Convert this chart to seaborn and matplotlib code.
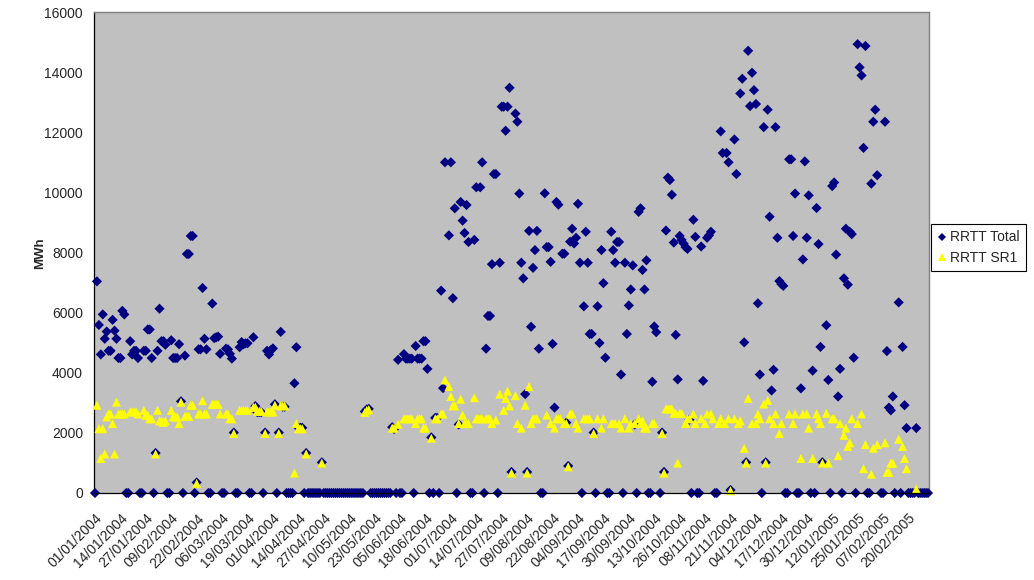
import numpy as np
import pandas as pd
import matplotlib
matplotlib.use("Agg")
import matplotlib.pyplot as plt
import matplotlib.transforms as mtransforms
import seaborn as sns
from matplotlib.lines import Line2D

N = None
# daily values, 01/01/2004 onwards (MWh)
total = [
    0, 7040, 5590, 4610, 5940, 5130, 5370, 4730, 4730, 5760,
    5400, 5130, 4490, 4490, 6060, 5940, 0, 0, 5050, 4610,
    4730, 4730, 4490, 0, 0, 4730, 4730, 5440, 5440, 4490,
    0, 1330, 4730, 6130, 5050, 5050, 4930, 0, 0, 5080,
    4490, 4490, 4490, 4950, 3050, 0, 4570, 7950, 7950, 8550,
    8550, 0, 350, 4780, 4780, 6820, 5130, 4780, 0, 0,
    6300, 5150, 5180, 5200, 4630, 0, 0, 4800, 4780, 4630,
    4470, 2010, 0, 0, 4850, 5020, 4950, 4980, 4980, 0,
    0, 5180, 2890, 2690, 2690, 2690, 0, 2010, 4730, 4610,
    4760, 4810, 2950, 0, 2010, 5360, 2870, 2870, 0, 0,
    0, 0, 3650, 4850, 2170, 2170, 2170, 0, 1330, 0,
    0, 0, 0, 0, 0, 0, 1020, 0, 0, 0,
    0, 0, 0, 0, 0, 0, 0, 0, 0, 0,
    0, 0, 0, 0, 0, 0, 0, 0, 2710, 2780,
    2800, 0, 0, 0, 0, 0, 0, 0, 0, 0,
    0, 0, 2190, 2130, 0, 4430, 0, 0, 4620, 4470,
    4470, 4470, 4470, 0, 4890, 4470, 4470, 4470, 5050, 5050,
    4130, 0, 1850, 0, 2500, 2500, 0, 6730, 3490, 11000,
    N, 8570, 11000, 6480, 9470, 0, 2280, 9680, 9060, 8650,
    9580, 8350, 0, 0, 8420, 10170, N, 10170, 11000, 0,
    4800, 5890, 5890, 7610, 10610, 10610, 0, 7660, 12850, 12850,
    12050, 12850, 13480, 700, N, 12620, 12350, 9960, 7660, 7140,
    3290, 700, 8720, 5530, 7490, 8080, 8720, 4800, 0, 0,
    9970, 8180, 8180, 7690, 4960, 2840, 9680, 9590, N, 7960,
    7960, 2340, 900, 8360, 8790, 8300, 8490, 9620, 7660, 0,
    6210, 8690, 7660, 5290, 5290, 2010, 0, 6210, 4990, 8080,
    6980, 4500, 0, 0, 8690, 8080, 7660, 8350, 8350, 3940,
    0, 7660, 5290, 6240, 6770, 7570, 2280, 0, 9350, 9470,
    7420, 6770, 7740, 0, 0, 3700, 5540, 5350, N, 0,
    2010, 700, 8730, 10490, 10410, 9920, 8330, 5260, 3780, 8550,
    8420, 8300, 8180, 8120, 2440, 0, 9090, 8520, 0, 0,
    8200, 3730, N, 8490, 8570, 8690, N, 0, 0, N,
    12030, 11310, N, 11310, 11000, 100, N, 11760, 10610, N,
    13290, 13780, 5010, 1020, 14710, 12870, 13980, 13400, 12940, 6310,
    3940, 0, 12170, 1020, 12750, 9190, 3410, 4100, 12170, 8490,
    7050, 6950, 6890, 0, 0, 11100, 11100, 8550, 9960, 0,
    0, 3480, 7770, 11030, 8490, 9900, 0, 4070, 0, 9480,
    8280, 4860, 1020, N, 5580, 3760, 0, 10210, 10330, 7930,
    3210, 4130, 0, 7140, 8790, 6930, 8690, 8610, 4500, 0,
    14930, 14160, 13890, 11480, 14870, 0, 0, 10290, 12350, 12750,
    10570, N, 0, 0, 12350, 4720, 2840, 2750, 3210, 0,
    N, 6340, 0, 4860, 2920, 2160, 0, 0, 0, 0,
    2160, 0, 0, 0, 0, 0, 0,
]
sr1 = [
    N, 2920, 2140, 1150, 2140, 1300, 2530, 2630, 2630, 2310,
    1300, 3020, 2630, 2630, 2630, 2630, N, N, 2700, 2700,
    2700, 2700, 2630, N, N, 2750, 2590, 2590, 2470, 2470,
    N, 1300, 2750, 2400, 2400, 2350, 2400, N, N, 2750,
    2530, 2530, 2530, 2310, 3020, N, 2550, 2550, 2550, 2920,
    2920, N, 320, 2630, 2630, 3070, 2630, 2630, N, N,
    2950, 2950, 2950, 2950, 2630, N, N, 2630, 2630, 2470,
    2470, 1980, N, N, 2750, 2750, 2750, 2750, 2750, N,
    N, 2850, 2860, 2720, 2720, 2720, N, 1980, 2700, 2700,
    2700, 2700, 2920, N, 1980, 2900, 2900, 2900, N, N,
    N, N, 663, 2310, 2140, 2140, 2140, N, 1300, N,
    N, N, N, N, N, N, 995, N, N, N,
    N, N, N, N, N, N, N, N, N, N,
    N, N, N, N, N, N, N, N, 2680, 2750,
    2775, N, N, N, N, N, N, N, N, N,
    N, N, 2160, 2160, N, 2285, N, N, 2470, 2470,
    2470, 2470, 2470, N, 2310, 2470, 2470, 2470, 2160, 2160,
    N, N, 1820, N, 2470, 2470, N, 2630, 2630, 3760,
    N, 3540, 3210, 2900, 2900, N, 2310, 3120, 2590, 2310,
    2310, 2310, N, N, 3170, 2470, 2470, 2470, 2470, N,
    2470, 2470, 2470, 2310, N, 2430, N, 3290, N, 2750,
    3145, 3390, 2900, 663, N, 3240, 2310, N, 2160, N,
    2920, 663, 3540, 2310, 2470, 2470, 2470, N, N, N,
    N, 2590, N, 2310, N, 2160, 2470, 2470, 2470, N,
    2310, 2310, 872, 2630, 2630, N, 2310, 2160, N, N,
    2470, 2470, 2470, 2470, N, 1980, N, 2470, N, 2160,
    2470, N, N, N, 2310, 2310, 2310, N, 2310, 2160,
    N, 2470, N, 2160, 2310, N, 2310, N, 2470, 2310,
    2400, 2160, 2160, N, N, 2310, 2310, N, N, N,
    1980, 663, 2800, 2800, 2800, 2800, 2650, 2650, 995, 2650,
    2650, N, 2310, 2470, 2470, N, 2630, 2310, N, N,
    2470, N, 2310, 2630, N, 2630, 2470, N, N, 2310,
    2470, N, 2310, N, 2470, 75, N, 2470, N, 2310,
    2400, N, 1486, 995, 3145, N, 2310, N, 2310, 2630,
    2470, N, 2960, 995, 3080, 2470, N, 2310, 2630, N,
    1980, 2310, N, N, N, 2630, N, 2310, 2630, N,
    N, 1150, 2630, N, 2630, 2160, N, 1150, N, 2630,
    2470, 2310, 995, N, 2650, 995, N, 2470, 2470, N,
    1240, 2310, N, 1920, 2160, 1550, 1670, 2470, N, N,
    2310, N, 2630, 810, 1610, N, N, 626, 1490, N,
    1610, N, N, N, 1670, 690, 690, 995, 995, N,
    N, 1790, N, 1550, 1150, 810, N, N, N, N,
    135, N, N, N, N, N, N,
]
series_names = ["RRTT Total", "RRTT SR1"]
y_ticks = list(range(0, 16001, 2000))

dates = pd.date_range("2004-01-01", periods=len(total), freq="D")
tick_pos = np.arange(0, len(total), 13)
tick_labels = [dates[i].strftime("%d/%m/%Y") for i in tick_pos]

df = pd.DataFrame({
    "day": np.arange(len(total)),
    series_names[0]: pd.to_numeric(pd.Series(total), errors="coerce"),
    series_names[1]: pd.to_numeric(pd.Series(sr1), errors="coerce"),
})

sns.set_theme(style="white")
plt.rcParams["font.family"] = ["Liberation Sans", "DejaVu Sans"]

fig = plt.figure(figsize=(10.34, 5.8), dpi=100)
fig.patch.set_facecolor("white")
ax = fig.add_axes([94 / 1034, 87 / 580, 835 / 1034, 481 / 580])
ax.set_facecolor("#C0C0C0")

sns.scatterplot(data=df, x="day", y=series_names[0], marker="D", s=27,
                color="#000080", edgecolor="none", linewidth=0, ax=ax,
                zorder=3, legend=False)
sns.scatterplot(data=df, x="day", y=series_names[1], marker="^", s=42,
                color="#FFFF00", edgecolor="none", linewidth=0, ax=ax,
                zorder=4, legend=False)
for c in ax.collections:
    c.set_clip_on(False)

ax.set_xlim(-0.5, len(total) - 0.5)
ax.set_ylim(0, 16000)
ax.set_yticks(y_ticks)
ax.set_yticklabels([str(v) for v in y_ticks], fontsize=10)
ax.set_xticks(tick_pos)
ax.set_xticklabels(tick_labels, rotation=45, ha="right",
                   rotation_mode="anchor", fontsize=10)
shift = mtransforms.ScaledTranslation(-5 / 100, 0, fig.dpi_scale_trans)
for lab in ax.get_xticklabels():
    lab.set_transform(lab.get_transform() + shift)
ax.set_xticks(np.arange(-0.5, len(total), 1), minor=True)
ax.tick_params(axis="x", which="major", length=0, pad=13)
ax.tick_params(axis="x", which="minor", length=6, width=0.5,
               direction="inout", color="black")
ax.tick_params(axis="y", which="major", length=6, width=0.9,
               direction="inout", color="black", pad=5)
ax.set_xlabel("")
ax.set_ylabel("")

for s in ["left", "bottom"]:
    ax.spines[s].set_color("black")
    ax.spines[s].set_linewidth(0.9)
for s in ["top", "right"]:
    ax.spines[s].set_color("#808080")
    ax.spines[s].set_linewidth(1.0)
ax.spines["bottom"].set_zorder(5)

fig.text(40 / 1034, 1 - 253 / 580, "MWh", rotation=90, ha="center",
         va="center", fontsize=9.5, fontweight="bold")

handles = [
    Line2D([], [], marker="D", linestyle="none", color="#000080",
           markersize=4.2, markeredgewidth=0),
    Line2D([], [], marker="^", linestyle="none", color="#FFFF00",
           markersize=6, markeredgewidth=0),
]
leg = fig.legend(handles, series_names, loc="center left",
                 bbox_to_anchor=(931 / 1034, 1 - 247.5 / 580),
                 frameon=True, fancybox=False, framealpha=1,
                 edgecolor="black", facecolor="white", fontsize=10,
                 handlelength=0.7, handletextpad=0.25, borderpad=0.45,
                 labelspacing=0.45, borderaxespad=0)
leg.get_frame().set_linewidth(0.8)

fig.savefig("out.png", dpi=100, facecolor="white")
